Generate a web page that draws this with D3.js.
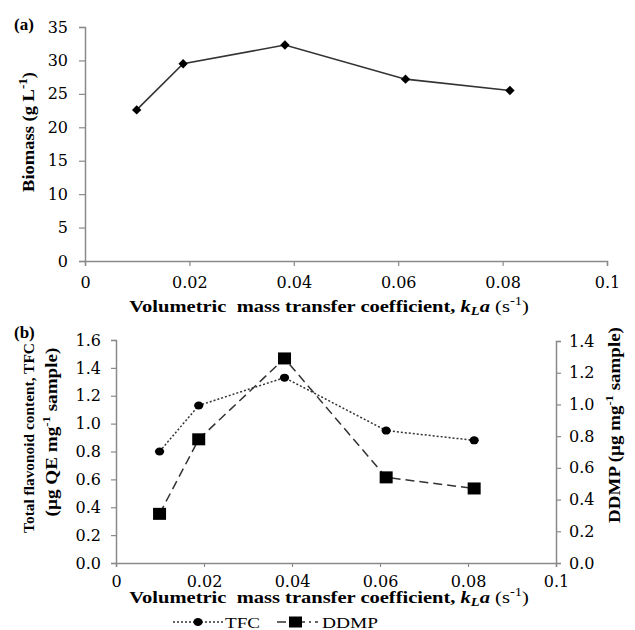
<!DOCTYPE html>
<html lang="en">
<head>
<meta charset="utf-8">
<title>kLa chart</title>
<script src="https://cdn.jsdelivr.net/npm/d3@7"></script>
<style>
  body { margin: 0; background: #fff; }
  text { fill: #000; }
</style>
</head>
<body>
<script>
    // data
    var kla = [0.0099, 0.0188, 0.0383, 0.0614, 0.0814];
    var biomass = [22.6, 29.5, 32.3, 27.2, 25.5];
    var tfc = [0.80, 1.13, 1.33, 0.95, 0.88];
    var ddmp = [0.31, 0.78, 1.29, 0.54, 0.47];
    var xTicks = [0, 0.02, 0.04, 0.06, 0.08, 0.1];
    var biomassTicks = [0, 5, 10, 15, 20, 25, 30, 35];
    var tfcTicks = [0, 0.2, 0.4, 0.6, 0.8, 1.0, 1.2, 1.4, 1.6];
    var ddmpTicks = [0, 0.2, 0.4, 0.6, 0.8, 1.0, 1.2, 1.4];

    var w = 635, h = 630;
    var axisColor = "#8a8a8a";
    var tickFont = "'DejaVu Serif', serif";
    var titleFont = "'Liberation Serif', 'Times New Roman', serif";

    var svg = d3.select("body").append("svg")
        .attr("width", w)
        .attr("height", h);

    function xFmt(d) { return d === 0 ? "0" : String(+d.toFixed(2)); }

    function styleAxis(g) {
        g.select(".domain").attr("stroke", axisColor).attr("stroke-width", 1.5);
        g.selectAll(".tick line").attr("stroke", axisColor).attr("stroke-width", 1.2);
        g.selectAll(".tick text")
            .attr("font-family", tickFont)
            .attr("font-size", "16px")
            .attr("fill", "#111");
    }

    // put text at (x,y), rotate, and stretch it along its run to a target length
    function place(t, x, y, rot, target) {
        var len = t.node().getComputedTextLength();
        var s = target / len;
        t.attr("transform", "translate(" + x + "," + y + ") rotate(" + rot + ") scale(" + s + ",1)");
    }

    function sup(t, txt, size, up) {
        t.append("tspan").attr("font-size", size).attr("dy", -up).text(txt);
        return t.append("tspan").attr("dy", up);
    }

    // x axis title with k_L a and superscript
    function xTitle(y) {
        var t = svg.append("text")
            .attr("text-anchor", "middle")
            .attr("font-family", titleFont)
            .attr("font-weight", "bold")
            .attr("font-size", "17px")
            .attr("xml:space", "preserve");
        t.append("tspan").text("Volumetric  mass transfer coefficient, ");
        t.append("tspan").attr("font-style", "italic").text("k");
        t.append("tspan").attr("font-style", "italic").attr("font-size", "12px").attr("dy", 3).text("L");
        t.append("tspan").attr("font-style", "italic").attr("dy", -3).text("a");
        t.append("tspan").attr("font-weight", "normal").text(" (s");
        t.append("tspan").attr("font-weight", "normal").attr("font-size", "12px").attr("dy", -7).text("-1");
        t.append("tspan").attr("font-weight", "normal").attr("dy", 7).text(")");
        place(t, 329, y, 0, 400);
    }

    // ---------- panel (a) ----------
    var xa = d3.scaleLinear().domain([0, 0.1]).range([85, 607]);
    var ya = d3.scaleLinear().domain([0, 35]).range([261, 27]);

    svg.append("g")
        .attr("transform", "translate(0," + ya(0) + ")")
        .call(d3.axisBottom(xa).tickValues(xTicks).tickFormat(xFmt).tickSizeOuter(0).tickSize(5).tickPadding(11))
        .call(styleAxis);

    svg.append("g")
        .attr("transform", "translate(" + xa(0) + ",0)")
        .call(d3.axisLeft(ya).tickValues(biomassTicks).tickSizeOuter(0).tickSize(6).tickPadding(11))
        .call(styleAxis);

    var lineA = d3.line()
        .x(function (d, i) { return xa(kla[i]); })
        .y(function (d) { return ya(d); });

    svg.append("path")
        .datum(biomass)
        .attr("d", lineA)
        .attr("fill", "none")
        .attr("stroke", "#333")
        .attr("stroke-width", 1.6);

    svg.selectAll(".diamond")
        .data(biomass)
        .enter()
        .append("path")
        .attr("class", "diamond")
        .attr("d", d3.symbol().type(d3.symbolDiamond2).size(56))
        .attr("transform", function (d, i) {
            return "translate(" + xa(kla[i]) + "," + ya(d) + ")";
        })
        .attr("fill", "#000");

    svg.append("text")
        .attr("x", 14).attr("y", 30)
        .attr("font-family", titleFont).attr("font-weight", "bold").attr("font-size", "17px")
        .text("(a)");

    var ytA = svg.append("text")
        .attr("text-anchor", "middle")
        .attr("font-family", titleFont).attr("font-weight", "bold").attr("font-size", "17px");
    ytA.append("tspan").text("Biomass (g L");
    sup(ytA, "-1", "12px", 7).text(")");
    place(ytA, 34, 132, -90, 120);

    xTitle(312);

    // ---------- panel (b) ----------
    var xb = d3.scaleLinear().domain([0, 0.1]).range([116, 556]);
    var yl = d3.scaleLinear().domain([0, 1.6]).range([563, 340]);
    var yr = d3.scaleLinear().domain([0, 1.4]).range([563, 341]);

    svg.append("g")
        .attr("transform", "translate(0," + yl(0) + ")")
        .call(d3.axisBottom(xb).tickValues(xTicks).tickFormat(xFmt).tickSizeOuter(0).tickSize(4).tickPadding(9))
        .call(styleAxis);

    svg.append("g")
        .attr("transform", "translate(" + xb(0) + ",0)")
        .call(d3.axisLeft(yl).tickValues(tfcTicks).tickFormat(d3.format(".1f")).tickSizeOuter(0).tickSize(5).tickPadding(10))
        .call(styleAxis);

    svg.append("g")
        .attr("transform", "translate(" + xb(0.1) + ",0)")
        .call(d3.axisRight(yr).tickValues(ddmpTicks).tickFormat(d3.format(".1f")).tickSizeOuter(0).tickSize(5).tickPadding(8))
        .call(styleAxis);

    var lineT = d3.line()
        .x(function (d, i) { return xb(kla[i]); })
        .y(function (d) { return yl(d); });
    var lineD = d3.line()
        .x(function (d, i) { return xb(kla[i]); })
        .y(function (d) { return yr(d); });

    svg.append("path")
        .datum(tfc)
        .attr("d", lineT)
        .attr("fill", "none")
        .attr("stroke", "#333")
        .attr("stroke-width", 1.5)
        .attr("stroke-dasharray", "2,2");

    svg.append("path")
        .datum(ddmp)
        .attr("d", lineD)
        .attr("fill", "none")
        .attr("stroke", "#333")
        .attr("stroke-width", 1.5)
        .attr("stroke-dasharray", "9,5");

    svg.selectAll(".dot")
        .data(tfc)
        .enter()
        .append("ellipse")
        .attr("class", "dot")
        .attr("cx", function (d, i) { return xb(kla[i]); })
        .attr("cy", function (d) { return yl(d); })
        .attr("rx", 4.6).attr("ry", 4)
        .attr("fill", "#000");

    svg.selectAll(".sq")
        .data(ddmp)
        .enter()
        .append("rect")
        .attr("class", "sq")
        .attr("x", function (d, i) { return xb(kla[i]) - 6.5; })
        .attr("y", function (d) { return yr(d) - 6; })
        .attr("width", 13).attr("height", 12)
        .attr("fill", "#000");

    svg.append("text")
        .attr("x", 14).attr("y", 338)
        .attr("font-family", titleFont).attr("font-weight", "bold").attr("font-size", "17px")
        .text("(b)");

    var yt1 = svg.append("text")
        .attr("text-anchor", "middle")
        .attr("font-family", titleFont).attr("font-weight", "bold").attr("font-size", "15px")
        .text("Total flavonoid content, TFC");
    place(yt1, 34, 438, -90, 190);

    var yt2 = svg.append("text")
        .attr("text-anchor", "middle")
        .attr("font-family", titleFont).attr("font-weight", "bold").attr("font-size", "16.5px")
        .attr("xml:space", "preserve");
    yt2.append("tspan").text("(µg QE mg");
    sup(yt2, "-1", "11px", 7).text(" sample)");
    place(yt2, 57, 432, -90, 169);

    var yt3 = svg.append("text")
        .attr("text-anchor", "middle")
        .attr("font-family", titleFont).attr("font-weight", "bold").attr("font-size", "16.5px")
        .attr("xml:space", "preserve");
    yt3.append("tspan").text("DDMP (µg mg");
    sup(yt3, "-1", "11px", 7).text(" sample)");
    place(yt3, 620, 425, -90, 196);

    xTitle(603);

    // legend
    var legend = svg.append("g").attr("transform", "translate(0,622)");
    legend.append("line")
        .attr("x1", 173).attr("x2", 223).attr("y1", 0).attr("y2", 0)
        .attr("stroke", "#333").attr("stroke-width", 1.5).attr("stroke-dasharray", "2,2");
    legend.append("ellipse")
        .attr("cx", 198).attr("cy", 0).attr("rx", 4.6).attr("ry", 4).attr("fill", "#000");
    var l1 = legend.append("text")
        .attr("font-family", titleFont).attr("font-size", "15px")
        .text("TFC");
    place(l1, 225, 5.5, 0, 35);
    legend.append("line")
        .attr("x1", 277).attr("x2", 318).attr("y1", 0).attr("y2", 0)
        .attr("stroke", "#333").attr("stroke-width", 1.5).attr("stroke-dasharray", "9,4,2,4");
    legend.append("rect")
        .attr("x", 289).attr("y", -5.5).attr("width", 13).attr("height", 11).attr("fill", "#000");
    var l2 = legend.append("text")
        .attr("font-family", titleFont).attr("font-size", "15px")
        .text("DDMP");
    place(l2, 322, 5.5, 0, 56);
</script>
</body>
</html>
